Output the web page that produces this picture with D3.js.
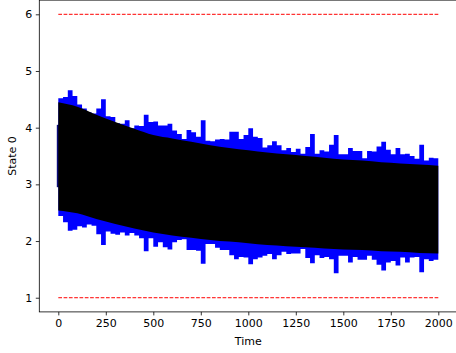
<!DOCTYPE html>
<html>
<head>
<meta charset="utf-8">
<script src="https://cdn.jsdelivr.net/npm/d3@7"></script>
<style>
  html, body { margin: 0; padding: 0; background: #fff; }
  svg { display: block; }
  text { font-family: "DejaVu Sans", sans-serif; }
</style>
</head>
<body>
<svg id="chart" width="456" height="353"></svg>
<script>
// Noisy state trajectory: per-window extremes (25 time units per window)
const binWidth = 25;
const blueHigh = [4.52,4.54,4.66,4.56,4.41,4.34,4.27,4.25,4.34,4.50,
                  4.20,4.19,4.08,4.07,4.13,3.99,4.04,4.03,4.23,4.10,
                  4.11,4.04,4.04,4.07,3.95,3.89,3.80,3.96,3.92,3.84,
                  4.13,3.77,3.76,3.79,3.80,3.79,3.93,3.93,3.80,3.87,
                  3.99,3.84,3.82,3.65,3.69,3.76,3.69,3.60,3.64,3.57,
                  3.63,3.54,3.66,3.89,3.54,3.60,3.58,3.70,3.87,3.53,
                  3.53,3.64,3.59,3.59,3.46,3.59,3.58,3.67,3.75,3.61,
                  3.53,3.64,3.53,3.54,3.50,3.45,3.70,3.42,3.47,3.46];
const blueLow  = [2.44,2.33,2.18,2.20,2.26,2.24,2.29,2.27,2.12,1.93,
                  2.17,2.13,2.11,2.15,2.10,2.14,2.10,2.05,1.82,2.05,
                  1.90,1.98,1.89,1.85,1.98,2.02,2.03,1.84,1.84,1.83,
                  1.60,1.95,1.95,1.88,1.84,1.84,1.75,1.68,1.72,1.71,
                  1.59,1.68,1.71,1.74,1.77,1.68,1.75,1.81,1.77,1.78,
                  1.78,1.86,1.70,1.61,1.75,1.70,1.72,1.68,1.43,1.74,
                  1.74,1.62,1.72,1.67,1.67,1.74,1.67,1.58,1.48,1.62,
                  1.65,1.57,1.71,1.62,1.71,1.72,1.45,1.68,1.65,1.67];

// Mean-field trajectory envelope, sampled every 100 time units
const envTimes    = [0,100,200,300,400,500,600,700,800,900,1000,1100,1200,1300,1400,1500,1600,1700,1800,1900,2000];
const blackTop    = [4.45,4.37,4.23,4.10,3.98,3.87,3.81,3.75,3.69,3.64,3.60,3.56,3.53,3.50,3.47,3.44,3.42,3.39,3.37,3.35,3.33];
const blackBottom = [2.54,2.49,2.39,2.30,2.22,2.15,2.10,2.06,2.02,1.99,1.96,1.93,1.91,1.89,1.87,1.85,1.84,1.82,1.81,1.79,1.78];

// Initial jump of the noisy trajectory at t = 0
const startSegment = [2.95, 4.05];

// Bounds drawn as dashed reference lines
const bounds = [1, 6];
const boundSpan = [0, 2000];

const xTicks = [0, 250, 500, 750, 1000, 1250, 1500, 1750, 2000];
const yTicks = [1, 2, 3, 4, 5, 6];

const svg = d3.select("#chart");

const x = d3.scaleLinear().domain([-100, 2100]).range([39.3, 457.3]);
const y = d3.scaleLinear().domain([0.75, 6.25]).range([311.9, 0.13]);

// Stepped band for the noisy trajectory
const bins = blueHigh.map((h, i) => ({ t: i * binWidth, hi: h, lo: blueLow[i] }));
bins.push({ t: bins.length * binWidth, hi: blueHigh[blueHigh.length - 1], lo: blueLow[blueLow.length - 1] });

svg.append("path")
  .datum(bins)
  .attr("fill", "#0000ff")
  .attr("d", d3.area()
    .curve(d3.curveStepAfter)
    .x(d => x(d.t))
    .y0(d => y(d.lo))
    .y1(d => y(d.hi)));

svg.append("line")
  .attr("x1", x(0)).attr("x2", x(0))
  .attr("y1", y(startSegment[0])).attr("y2", y(startSegment[1]))
  .attr("stroke", "#0a0a7a")
  .attr("stroke-width", 3);

// Solid band for the mean-field trajectory
const env = envTimes.map((t, i) => ({ t, top: blackTop[i], bot: blackBottom[i] }));
svg.append("path")
  .datum(env)
  .attr("fill", "#000")
  .attr("d", d3.area()
    .curve(d3.curveMonotoneX)
    .x(d => x(d.t))
    .y0(d => y(d.bot))
    .y1(d => y(d.top)));

// Dashed bounds
svg.selectAll("line.bound")
  .data(bounds)
  .join("line")
  .attr("class", "bound")
  .attr("x1", x(boundSpan[0])).attr("x2", x(boundSpan[1]))
  .attr("y1", d => y(d)).attr("y2", d => y(d))
  .attr("stroke", "#ff0000")
  .attr("stroke-width", 1)
  .attr("stroke-dasharray", "3.7,1.6");

// Axes
const xAxis = d3.axisBottom(x).tickValues(xTicks).tickFormat(d3.format("d"))
  .tickSize(3.5).tickPadding(3.5);
const yAxis = d3.axisLeft(y).tickValues(yTicks).tickFormat(d3.format("d"))
  .tickSize(3.5).tickPadding(3.5);

const gx = svg.append("g").attr("transform", `translate(0,${y(0.75)})`).call(xAxis);
const gy = svg.append("g").attr("transform", `translate(${x(-100)},0)`).call(yAxis);

[gx, gy].forEach(g => {
  g.select(".domain").remove();
  g.selectAll(".tick line").attr("stroke", "#000").attr("stroke-width", 0.8);
  g.selectAll(".tick text").attr("fill", "#000").style("font-size", "11px")
    .style("font-family", "'DejaVu Sans', sans-serif");
});

// Frame
const [x0, x1] = x.range();
const [yb, yt] = y.range();
svg.append("rect")
  .attr("x", x0).attr("y", yt)
  .attr("width", x1 - x0).attr("height", yb - yt)
  .attr("fill", "none")
  .attr("stroke", "#000")
  .attr("stroke-width", 0.8);

// Axis titles
svg.append("text")
  .attr("x", (x0 + x1) / 2).attr("y", 345)
  .attr("text-anchor", "middle")
  .style("font-size", "11px")
  .text("Time");

svg.append("text")
  .attr("transform", `translate(16,${(yb + yt) / 2}) rotate(-90)`)
  .attr("text-anchor", "middle")
  .style("font-size", "11px")
  .text("State 0");
</script>
</body>
</html>
